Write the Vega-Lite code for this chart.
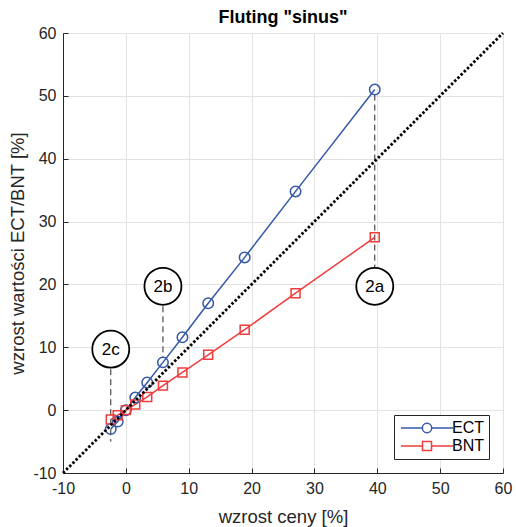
{
  "$schema": "https://vega.github.io/schema/vega-lite/v6.json",
  "width": 440,
  "height": 440,
  "autosize": {"type": "none"},
  "padding": {"left": 63, "top": 33, "right": 13, "bottom": 54},
  "background": "white",
  "title": {"text": "Fluting \"sinus\"", "fontSize": 18, "font": "Liberation Sans", "fontWeight": "bold", "color": "#000000", "offset": -2, "anchor": "middle"},
  "config": {
    "view": {"stroke": null},
    "axis": {
      "labelFont": "Liberation Sans", "titleFont": "Liberation Sans",
      "labelFontSize": 16, "titleFontSize": 18.5,
      "labelColor": "#262626", "titleColor": "#262626", "titleFontWeight": "normal",
      "domainColor": "#262626", "tickColor": "#262626", "gridColor": "#e3e3e3",
      "tickSize": -5, "grid": true, "domainWidth": 1, "tickWidth": 1,
      "labelFlush": false, "labelOverlap": false,
      "labelExpr": "'' + datum.value"
    }
  },
  "datasets": {
    "series": [
      {"x": -2.4, "y": -3.0, "s": "ECT"},
      {"x": -1.3, "y": -1.8, "s": "ECT"},
      {"x": 0.0, "y": 0.0, "s": "ECT"},
      {"x": 1.5, "y": 2.0, "s": "ECT"},
      {"x": 3.4, "y": 4.4, "s": "ECT"},
      {"x": 5.9, "y": 7.6, "s": "ECT"},
      {"x": 9.0, "y": 11.6, "s": "ECT"},
      {"x": 13.1, "y": 17.0, "s": "ECT"},
      {"x": 18.9, "y": 24.3, "s": "ECT"},
      {"x": 27.0, "y": 34.8, "s": "ECT"},
      {"x": 39.6, "y": 51.0, "s": "ECT"},
      {"x": -2.4, "y": -1.5, "s": "BNT"},
      {"x": -1.3, "y": -0.8, "s": "BNT"},
      {"x": 0.0, "y": 0.0, "s": "BNT"},
      {"x": 1.5, "y": 0.9, "s": "BNT"},
      {"x": 3.4, "y": 2.1, "s": "BNT"},
      {"x": 5.9, "y": 3.9, "s": "BNT"},
      {"x": 9.0, "y": 6.0, "s": "BNT"},
      {"x": 13.1, "y": 8.8, "s": "BNT"},
      {"x": 18.9, "y": 12.8, "s": "BNT"},
      {"x": 27.0, "y": 18.6, "s": "BNT"},
      {"x": 39.6, "y": 27.5, "s": "BNT"}
    ],
    "diag": [{"x": -10, "y": -10}, {"x": 60, "y": 60}],
    "dash": [
      {"x": 39.6, "y1": 50.2, "y2": 19.7},
      {"x": 5.9, "y1": 19.7, "y2": 8.4},
      {"x": -2.4, "y1": 9.7, "y2": -5.0}
    ],
    "ann": [
      {"x": 39.6, "y": 19.7, "label": "2a"},
      {"x": 5.9, "y": 19.7, "label": "2b"},
      {"x": -2.4, "y": 9.7, "label": "2c"}
    ]
  },
  "layer": [
    {
      "data": {"name": "dash"},
      "mark": {"type": "rule", "strokeDash": [6, 4], "color": "#262626", "strokeWidth": 1},
      "encoding": {
        "x": {"field": "x", "type": "quantitative", "scale": {"domain": [-10, 60], "nice": false},
              "axis": {"values": [-10, 0, 10, 20, 30, 40, 50, 60], "title": "wzrost ceny [%]", "labelPadding": 12, "titlePadding": 11}},
        "y": {"field": "y1", "type": "quantitative", "scale": {"domain": [-10, 60], "nice": false},
              "axis": {"values": [-10, 0, 10, 20, 30, 40, 50, 60], "title": "wzrost wartości ECT/BNT [%]", "labelPadding": 12, "titlePadding": 5}},
        "y2": {"field": "y2"}
      }
    },
    {
      "data": {"name": "series"},
      "transform": [{"filter": "datum.s === 'ECT'"}],
      "mark": {"type": "line", "strokeWidth": 1.5, "color": "#3458a8"},
      "encoding": {
        "x": {"field": "x", "type": "quantitative"},
        "y": {"field": "y", "type": "quantitative"}
      }
    },
    {
      "data": {"name": "series"},
      "transform": [{"filter": "datum.s === 'BNT'"}],
      "mark": {"type": "line", "strokeWidth": 1.5, "color": "#f03c3c"},
      "encoding": {
        "x": {"field": "x", "type": "quantitative"},
        "y": {"field": "y", "type": "quantitative"}
      }
    },
    {
      "data": {"name": "series"},
      "transform": [{"filter": "datum.s === 'ECT'"}],
      "mark": {"type": "point", "shape": "circle", "size": 110, "filled": false, "strokeWidth": 1.5, "opacity": 1, "color": "#3458a8"},
      "encoding": {
        "x": {"field": "x", "type": "quantitative"},
        "y": {"field": "y", "type": "quantitative"}
      }
    },
    {
      "data": {"name": "series"},
      "transform": [{"filter": "datum.s === 'BNT'"}],
      "mark": {"type": "point", "shape": "square", "size": 80, "filled": false, "strokeWidth": 1.5, "opacity": 1, "color": "#f03c3c"},
      "encoding": {
        "x": {"field": "x", "type": "quantitative"},
        "y": {"field": "y", "type": "quantitative"}
      }
    },
    {
      "data": {"name": "diag"},
      "mark": {"type": "line", "color": "#000000", "strokeDash": [2.5, 2], "strokeWidth": 2.8},
      "encoding": {
        "x": {"field": "x", "type": "quantitative"},
        "y": {"field": "y", "type": "quantitative"}
      }
    },
    {
      "data": {"name": "ann"},
      "mark": {"type": "point", "shape": "circle", "size": 1369, "filled": true, "fill": "white", "stroke": "#000000", "strokeWidth": 1.8, "opacity": 1},
      "encoding": {
        "x": {"field": "x", "type": "quantitative"},
        "y": {"field": "y", "type": "quantitative"}
      }
    },
    {
      "data": {"name": "ann"},
      "mark": {"type": "text", "font": "Liberation Sans", "fontSize": 17, "color": "#000000", "align": "center", "baseline": "middle", "dy": 1},
      "encoding": {
        "x": {"field": "x", "type": "quantitative"},
        "y": {"field": "y", "type": "quantitative"},
        "text": {"field": "label"}
      }
    },
    {
      "data": {"name": "series"},
      "mark": {"type": "point", "opacity": 0, "filled": false},
      "encoding": {
        "x": {"field": "x", "type": "quantitative"},
        "y": {"field": "y", "type": "quantitative"},
        "color": {"field": "s", "type": "nominal", "scale": {"domain": ["ECT", "BNT"], "range": ["#3458a8", "#f03c3c"]},
                  "legend": {"title": null, "orient": "bottom-right", "offset": 14, "symbolSize": 100, "symbolStrokeWidth": 1.5, "symbolOffset": 20, "labelOffset": 17, "symbolOpacity": 1, "symbolFillColor": "transparent", "labelFontSize": 16, "labelFont": "Liberation Sans", "labelColor": "#000000", "strokeColor": "#262626", "fillColor": "white", "padding": 5, "rowPadding": 2}},
        "shape": {"field": "s", "type": "nominal", "scale": {"domain": ["ECT", "BNT"], "range": ["M-5.2,0H-0.94M0.94,0H5.2M0.94,0A0.94,0.94,0,1,1,-0.94,0A0.94,0.94,0,1,1,0.94,0Z", "M-5.2,0H-0.9M0.9,0H5.2M-0.9,-0.9H0.9V0.9H-0.9Z"]},
                  "legend": {"title": null, "orient": "bottom-right", "offset": 14, "symbolSize": 100, "symbolStrokeWidth": 1.5, "symbolOffset": 20, "labelOffset": 17, "symbolOpacity": 1, "symbolFillColor": "transparent", "labelFontSize": 16, "labelFont": "Liberation Sans", "labelColor": "#000000", "strokeColor": "#262626", "fillColor": "white", "padding": 5, "rowPadding": 2}}
      }
    }
  ]
}
